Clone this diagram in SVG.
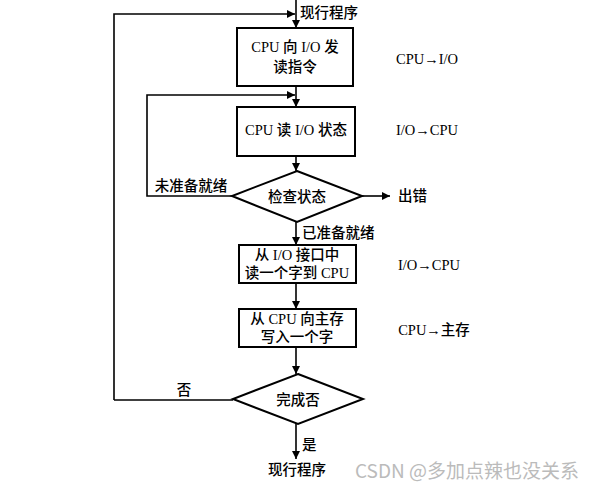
<svg xmlns="http://www.w3.org/2000/svg" width="601" height="487" viewBox="0 0 601 487">
<defs>
<marker id="ah" viewBox="0 0 10 10" refX="10" refY="5" markerWidth="8" markerHeight="8" markerUnits="userSpaceOnUse" orient="auto"><path d="M0,0 L10,5 L0,10 z" fill="#000"/></marker>
<style>
.box{fill:#fff;stroke:#000;stroke-width:2}
.ln{fill:none;stroke:#000;stroke-width:1.6}
.t{font-family:"Liberation Serif","Noto Sans CJK SC",serif;font-size:14.5px;font-weight:500;fill:#000;text-anchor:middle;dominant-baseline:central}
.l{text-anchor:start}
.wm{font-family:"Noto Sans CJK SC","Noto Sans",sans-serif;font-size:19px;fill:#bbb;text-anchor:start;dominant-baseline:central}
</style>
</defs>
<rect width="601" height="487" fill="#fff"/>
<g id="connectors">
<path class="ln" d="M296,0 V28" marker-end="url(#ah)"/>
<path class="ln" d="M114,400 V14 H295" marker-end="url(#ah)"/>
<path class="ln" d="M296,86 V107" marker-end="url(#ah)"/>
<path class="ln" d="M232,196 H147 V95 H295" marker-end="url(#ah)"/>
<path class="ln" d="M296,156 V171" marker-end="url(#ah)"/>
<path class="ln" d="M362,196 H390" marker-end="url(#ah)"/>
<path class="ln" d="M296,222 V245" marker-end="url(#ah)"/>
<path class="ln" d="M296,283 V309" marker-end="url(#ah)"/>
<path class="ln" d="M296,347 V374" marker-end="url(#ah)"/>
<path class="ln" d="M233,400 H114"/>
<path class="ln" d="M296,424 V459" marker-end="url(#ah)"/>
</g>
<g id="start"><text class="t l" x="300" y="13">现行程序</text></g>
<g id="box1"><rect class="box" x="237" y="28" width="116" height="58"/><text class="t" x="295" y="47">CPU 向 I/O 发</text><text class="t" x="295" y="67">读指令</text></g>
<g id="note1"><text class="t" x="427" y="59">CPU→I/O</text></g>
<g id="box2"><rect class="box" x="237" y="107" width="118" height="49"/><text class="t" x="296" y="130">CPU 读 I/O 状态</text></g>
<g id="note2"><text class="t" x="427" y="130">I/O→CPU</text></g>
<g id="dia1"><polygon class="box" points="297,171 362,196 297,222 232,196"/><text class="t" x="297" y="197">检查状态</text></g>
<g id="notready"><text class="t" x="191" y="186">未准备就绪</text></g>
<g id="err"><text class="t l" x="398" y="196">出错</text></g>
<g id="ready"><text class="t l" x="302" y="233">已准备就绪</text></g>
<g id="box3"><rect class="box" x="239" y="245" width="117" height="38"/><text class="t" x="297" y="255">从 I/O 接口中</text><text class="t" x="297" y="273">读一个字到 CPU</text></g>
<g id="note3"><text class="t" x="429" y="265">I/O→CPU</text></g>
<g id="box4"><rect class="box" x="239" y="309" width="117" height="38"/><text class="t" x="297" y="319">从 CPU 向主存</text><text class="t" x="297" y="337">写入一个字</text></g>
<g id="note4"><text class="t" x="434" y="330">CPU→主存</text></g>
<g id="dia2"><polygon class="box" points="298,374 363,399 298,424 233,399"/><text class="t" x="298" y="400">完成否</text></g>
<g id="no"><text class="t" x="184" y="390">否</text></g>
<g id="yes"><text class="t l" x="302" y="445">是</text></g>
<g id="end"><text class="t" x="297" y="470">现行程序</text></g>
<text class="wm" x="355" y="469">CSDN @多加点辣也没关系</text>
</svg>
